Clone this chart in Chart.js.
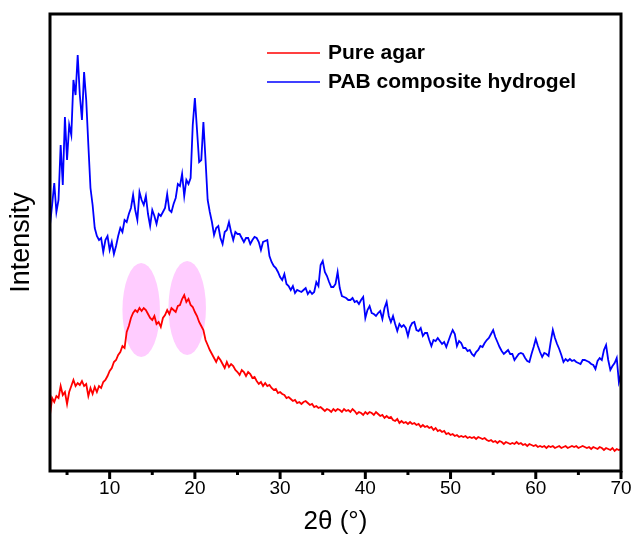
<!DOCTYPE html>
<html>
<head>
<meta charset="utf-8">
<script src="https://cdn.jsdelivr.net/npm/chart.js@4.4.1/dist/chart.umd.min.js"></script>
<style>
  body { margin: 0; background: #fff; }
  #wrap { width: 633px; height: 539px; }
</style>
</head>
<body>
<div id="wrap"><canvas id="xrdChart"></canvas></div>
<script>
// 2-theta sampling (degrees), every 0.25 deg
const angle = [
  3,3.25,3.5,3.75, 4,4.25,4.5,4.75, 5,5.25,5.5,5.75, 6,6.25,6.5,6.75, 7,7.25,7.5,7.75,
  8,8.25,8.5,8.75, 9,9.25,9.5,9.75, 10,10.25,10.5,10.75, 11,11.25,11.5,11.75, 12,12.25,12.5,12.75,
  13,13.25,13.5,13.75, 14,14.25,14.5,14.75, 15,15.25,15.5,15.75, 16,16.25,16.5,16.75, 17,17.25,17.5,17.75,
  18,18.25,18.5,18.75, 19,19.25,19.5,19.75, 20,20.25,20.5,20.75, 21,21.25,21.5,21.75, 22,22.25,22.5,22.75,
  23,23.25,23.5,23.75, 24,24.25,24.5,24.75, 25,25.25,25.5,25.75, 26,26.25,26.5,26.75, 27,27.25,27.5,27.75,
  28,28.25,28.5,28.75, 29,29.25,29.5,29.75, 30,30.25,30.5,30.75, 31,31.25,31.5,31.75, 32,32.25,32.5,32.75,
  33,33.25,33.5,33.75, 34,34.25,34.5,34.75, 35,35.25,35.5,35.75, 36,36.25,36.5,36.75, 37,37.25,37.5,37.75,
  38,38.25,38.5,38.75, 39,39.25,39.5,39.75, 40,40.25,40.5,40.75, 41,41.25,41.5,41.75, 42,42.25,42.5,42.75,
  43,43.25,43.5,43.75, 44,44.25,44.5,44.75, 45,45.25,45.5,45.75, 46,46.25,46.5,46.75, 47,47.25,47.5,47.75,
  48,48.25,48.5,48.75, 49,49.25,49.5,49.75, 50,50.25,50.5,50.75, 51,51.25,51.5,51.75, 52,52.25,52.5,52.75,
  53,53.25,53.5,53.75, 54,54.25,54.5,54.75, 55,55.25,55.5,55.75, 56,56.25,56.5,56.75, 57,57.25,57.5,57.75,
  58,58.25,58.5,58.75, 59,59.25,59.5,59.75, 60,60.25,60.5,60.75, 61,61.25,61.5,61.75, 62,62.25,62.5,62.75,
  63,63.25,63.5,63.75, 64,64.25,64.5,64.75, 65,65.25,65.5,65.75, 66,66.25,66.5,66.75, 67,67.25,67.5,67.75,
  68,68.25,68.5,68.75, 69,69.25,69.5,69.75, 70
];

// intensity, arbitrary units
const pureAgar = [
  57,74,70,76, 74,86,77,80, 68,80,86,92, 86,89,87,91, 86,88,76,84,
  78,85,80,86, 84,90,92,96, 101,104,110,112, 117,120,126,124, 140,146,154,159,
  162,160,164,161, 164,162,158,154, 152,156,148,150, 145,154,157,162, 158,164,162,160,
  166,167,173,177, 170,173,167,165, 160,156,150,146, 142,132,127,122, 118,114,110,115,
  112,108,104,110, 105,108,106,102, 100,97,102,100, 96,100,98,94, 95,91,88,90,
  86,89,86,87, 84,82,83,79, 80,78,77,74, 75,73,71,72, 69,70,68,70,
  71,69,67,68, 65,66,64,65, 63,61,63,62, 60,63,61,63, 62,60,63,61,
  62,60,63,61, 58,60,59,57, 60,58,60,59, 57,60,58,56, 57,54,56,54,
  55,52,51,53, 49,51,49,50, 48,50,48,49, 47,48,45,47, 45,46,44,45,
  42,44,41,42, 40,41,38,39, 37,38,36,37, 35,36,35,36, 34,35,34,35,
  33,35,34,33, 34,32,31,32, 30,31,29,31, 30,28,30,29, 28,29,28,30,
  28,29,27,28, 26,28,27,26, 27,25,26,25, 26,24,26,25, 26,24,25,26,
  24,25,26,24, 25,26,25,26, 24,25,26,25, 24,25,23,25, 24,23,25,24,
  22,24,23,22, 24,21,23,22, 23
];

const pabHydrogel = [
  247,267,289,260, 272,327,287,355, 312,347,337,392, 377,417,377,352, 400,372,327,284,
  267,244,236,232, 234,220,232,236, 222,230,218,226, 236,244,240,252, 250,258,264,277,
  262,252,280,272, 267,276,258,246, 262,256,248,258, 256,260,264,278, 262,260,268,274,
  288,286,298,276, 292,288,294,347, 374,342,310,312, 350,312,272,260, 250,237,244,246,
  234,228,240,242, 250,240,232,240, 238,238,234,230, 234,234,228,232, 235,234,230,222,
  230,231,232,216, 210,206,204,200, 195,192,198,188, 186,182,186,179, 182,181,180,182,
  184,178,181,178, 180,190,186,207, 211,200,196,190, 185,185,188,200, 184,176,175,174,
  172,172,174,170, 171,168,172,175, 154,162,166,159, 158,156,159,161, 153,164,170,156,
  150,156,148,141, 148,145,147,144, 136,145,149,150, 142,141,144,136, 139,139,132,126,
  132,131,134,131, 128,130,125,131, 137,142,138,126, 131,129,124,124, 121,122,118,116,
  120,122,126,125, 129,132,134,138, 142,135,130,125, 121,118,120,122, 118,118,112,115,
  118,119,118,114, 111,110,118,125, 133,126,120,115, 119,118,116,130, 142,134,128,123,
  117,110,113,111, 113,111,112,110, 109,108,112,112, 111,110,108,107, 103,111,114,112,
  122,127,112,102, 106,109,114,90, 98
];

const seriesNames = ['Pure agar', 'PAB composite hydrogel'];
const xTickLabels = [10, 20, 30, 40, 50, 60, 70];
const xMinorTicks = [5, 15, 25, 35, 45, 55, 65];

// highlighted agar reflections (2θ centre, intensity centre)
const peakCenters = [13.7, 19.1];
const peakLevels = [162, 164];
const peakHalfWidth = 2.2;
const peakHalfHeight = 47;

const decorations = {
  id: 'decorations',
  beforeDatasetsDraw(chart) {
    const { ctx, scales: { x, y } } = chart;
    ctx.save();
    ctx.fillStyle = '#ffccff';
    peakCenters.forEach((c, i) => {
      const cx = x.getPixelForValue(c);
      const cy = y.getPixelForValue(peakLevels[i]);
      const rx = x.getPixelForValue(c + peakHalfWidth) - cx;
      const ry = cy - y.getPixelForValue(peakLevels[i] + peakHalfHeight);
      ctx.beginPath();
      ctx.ellipse(cx, cy, rx, ry, 0, 0, Math.PI * 2);
      ctx.fill();
    });
    ctx.restore();
  },
  afterDraw(chart) {
    const { ctx, chartArea: a, scales: { x } } = chart;
    ctx.save();
    ctx.strokeStyle = '#000';
    ctx.lineWidth = 3;
    ctx.strokeRect(a.left, a.top, a.right - a.left, a.bottom - a.top);

    // tick marks below the axis
    const tick = (v, len, w) => {
      const px = x.getPixelForValue(v);
      ctx.lineWidth = w;
      ctx.beginPath();
      ctx.moveTo(px, a.bottom);
      ctx.lineTo(px, a.bottom + len);
      ctx.stroke();
    };
    xTickLabels.forEach(v => tick(v, 8, 3));
    xMinorTicks.forEach(v => tick(v, 4, 3));

    // legend
    ctx.font = 'bold 21px "Liberation Sans", Arial, sans-serif';
    ctx.textBaseline = 'middle';
    ctx.fillStyle = '#000';
    chart.data.datasets.forEach((ds, i) => {
      const ly = 53 + i * 29;
      ctx.strokeStyle = ds.borderColor;
      ctx.lineWidth = 1.5;
      ctx.beginPath();
      ctx.moveTo(267, ly);
      ctx.lineTo(320, ly);
      ctx.stroke();
      ctx.fillText(ds.label, 328, ly);
    });
    ctx.restore();
  }
};

const ctx = document.getElementById('xrdChart').getContext('2d');

const chart = new Chart(ctx, {
  type: 'line',
  data: {
    datasets: [{
      label: seriesNames[0],
      data: angle.map((a, i) => ({ x: a, y: pureAgar[i] })),
      borderColor: '#ff0000',
      borderWidth: 1.8,
      pointRadius: 0,
      fill: false
    }, {
      label: seriesNames[1],
      data: angle.map((a, i) => ({ x: a, y: pabHydrogel[i] })),
      borderColor: '#0000ff',
      borderWidth: 1.8,
      pointRadius: 0,
      fill: false
    }]
  },
  options: {
    responsive: true,
    maintainAspectRatio: false,
    animation: false,
    layout: { padding: { top: 14, right: 12, left: 0, bottom: 0 } },
    plugins: {
      legend: { display: false },
      tooltip: { enabled: false }
    },
    scales: {
      x: {
        type: 'linear',
        min: 3,
        max: 70,
        afterBuildTicks: (scale) => { scale.ticks = xTickLabels.map(v => ({ value: v })); },
        afterFit: (scale) => {
          scale.height = 68;
          scale.paddingLeft = 0;
          scale.paddingRight = 0;
        },
        grid: { display: false, drawTicks: false },
        border: { display: false },
        ticks: {
          color: '#000',
          padding: 6,
          maxRotation: 0,
          font: { family: '"Liberation Sans", Arial, sans-serif', size: 19 }
        },
        title: {
          display: true,
          text: '2θ (°)',
          color: '#000',
          padding: { top: 0, bottom: 4 },
          font: { family: '"Liberation Sans", Arial, sans-serif', size: 26, lineHeight: 1 }
        }
      },
      y: {
        min: 1,
        max: 458,
        afterFit: (scale) => { scale.width = 50; },
        grid: { display: false, drawTicks: false },
        border: { display: false },
        ticks: { display: false },
        title: {
          display: true,
          text: 'Intensity',
          color: '#000',
          padding: { top: 8, bottom: 0 },
          font: { family: '"Liberation Sans", Arial, sans-serif', size: 27, lineHeight: 1 }
        }
      }
    }
  },
  plugins: [decorations]
});
</script>
</body>
</html>
